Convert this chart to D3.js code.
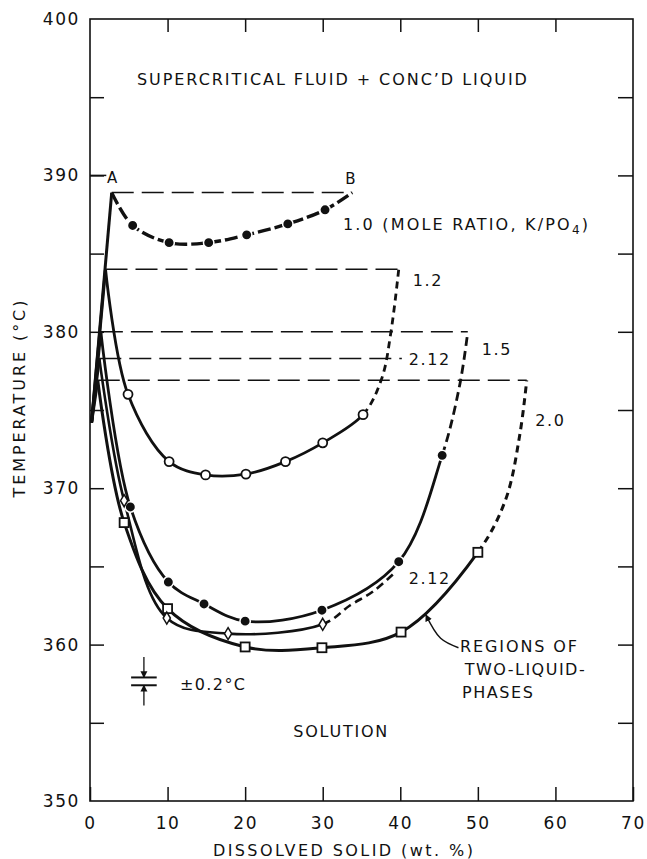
<!DOCTYPE html>
<html>
<head>
<meta charset="utf-8">
<script src="https://cdn.jsdelivr.net/npm/d3@7"></script>
<style>
  body { margin: 0; background: #fff; }
  text { font-family: "DejaVu Sans", sans-serif; fill: #111; }
</style>
</head>
<body>
<div id="chart"></div>
<script>
// Chart data (wt. % dissolved solid, temperature in deg C)
// ==============================
var xTicks = [0, 10, 20, 30, 40, 50, 60, 70];
var yTicks = [350, 360, 370, 380, 390, 400];
var yMinorTicks = [355, 360, 365, 370, 375, 380, 385, 390, 395];
var topTicks = [10, 20, 30, 40, 50, 60];

// pure water critical point, where every curve starts
var critical = [0.2, 374.2];

// mole ratio 1.0 (filled circles)
var peak10 = [2.8, 388.9];
var pts10 = [[5.5, 386.8], [10.2, 385.7], [15.3, 385.7], [20.2, 386.2], [25.5, 386.9], [30.3, 387.8]];
var end10 = [[33.8, 388.9]];

// mole ratio 1.2 (open circles)
var peak12 = [2.0, 384.0];
var pts12 = [[4.9, 376.0], [10.2, 371.7], [14.9, 370.85], [20.1, 370.9], [25.2, 371.7], [30.0, 372.9], [35.2, 374.7]];
var tail12 = [[37.6, 377.0], [38.8, 380.0], [39.8, 384.0]];

// mole ratio 1.5 (filled circles)
var peak15 = [1.4, 380.0];
var pts15 = [[5.2, 368.8], [10.1, 364.0], [14.7, 362.6], [20.0, 361.5], [29.9, 362.2], [39.8, 365.3], [45.4, 372.1]];
var tail15 = [[47.7, 376.7], [48.7, 380.0]];

// mole ratio 2.12 (open diamonds)
var peak212 = [1.2, 378.3];
var pts212 = [[4.4, 369.2], [9.9, 361.7], [17.8, 360.7], [30.0, 361.3]];
var tail212 = [[33.5, 362.5], [36.5, 363.4], [39.3, 364.6]];

// mole ratio 2.0 (open squares)
var peak20 = [1.0, 376.9];
var pts20 = [[4.4, 367.8], [10.0, 362.3], [20.0, 359.85], [29.9, 359.8], [40.1, 360.8], [50.0, 365.9]];
var tail20 = [[53.6, 369.3], [55.4, 373.4], [56.3, 376.9]];

// horizontal tie lines: level and right end
var tieLevels = [388.9, 384.0, 380.0, 378.3, 376.9];
var tieEnds = [33.8, 39.8, 48.7, 40.2, 56.3];

// Set chart parameters
// ==============================
var svgWidth = 647;
var svgHeight = 859;

var margin = { top: 19, right: 14, bottom: 58, left: 90 };
var width = svgWidth - margin.left - margin.right;
var height = svgHeight - margin.top - margin.bottom;

var svg = d3.select("#chart")
  .append("svg")
  .attr("width", svgWidth)
  .attr("height", svgHeight);

var defs = svg.append("defs");
defs.append("marker")
  .attr("id", "head")
  .attr("viewBox", "0 0 10 10")
  .attr("refX", 9).attr("refY", 5)
  .attr("markerWidth", 7).attr("markerHeight", 8)
  .attr("markerUnits", "userSpaceOnUse")
  .attr("orient", "auto")
  .append("path")
  .attr("d", "M0,0L10,5L0,10Z")
  .attr("fill", "#111");

var chartGroup = svg.append("g")
  .attr("transform", `translate(${margin.left}, ${margin.top})`);

// Scales
// ==============================
var x = d3.scaleLinear().domain([0, 70]).range([0, width]);
var y = d3.scaleLinear().domain([350, 400]).range([height, 0]);

// Axes
// ==============================
function styleAxis(g, size) {
  g.select(".domain").remove();
  g.selectAll("line").attr("stroke", "#111").attr("stroke-width", 1.5);
  g.selectAll("text")
    .attr("font-family", "DejaVu Sans")
    .attr("font-size", size)
    .attr("letter-spacing", 1.6)
    .attr("fill", "#111");
}

chartGroup.append("g")
  .attr("transform", `translate(0, ${height})`)
  .call(d3.axisBottom(x).tickValues(xTicks).tickSizeInner(-14).tickSizeOuter(0).tickPadding(16))
  .call(g => styleAxis(g, 17));

chartGroup.append("g")
  .call(d3.axisLeft(y).tickValues(yTicks).tickSize(0).tickPadding(10))
  .call(g => styleAxis(g, 17));

chartGroup.append("g")
  .call(d3.axisLeft(y).tickValues(yMinorTicks).tickSizeInner(-14).tickSizeOuter(0).tickFormat(""))
  .call(g => styleAxis(g, 17));

chartGroup.append("g")
  .attr("transform", `translate(${width}, 0)`)
  .call(d3.axisRight(y).tickValues(yMinorTicks).tickSizeInner(-15).tickSizeOuter(0).tickFormat(""))
  .call(g => styleAxis(g, 17));

chartGroup.append("g")
  .call(d3.axisTop(x).tickValues(topTicks).tickSizeInner(-13).tickSizeOuter(0).tickFormat(""))
  .call(g => styleAxis(g, 17));

chartGroup.append("rect")
  .attr("width", width).attr("height", height)
  .attr("fill", "none").attr("stroke", "#111").attr("stroke-width", 1.6);

// Axis titles
// ==============================
chartGroup.append("text")
  .attr("transform", `translate(${-margin.left + 25}, ${y(375.7)}) rotate(-90)`)
  .attr("text-anchor", "middle")
  .attr("font-size", 16)
  .attr("textLength", 197)
  .attr("lengthAdjust", "spacing")
  .text("TEMPERATURE  (°C)");

chartGroup.append("text")
  .attr("x", x(32.6)).attr("y", height + 55)
  .attr("text-anchor", "middle")
  .attr("font-size", 16)
  .attr("textLength", 260)
  .attr("lengthAdjust", "spacing")
  .text("DISSOLVED SOLID  (wt. %)");

// Curves
// ==============================
var smooth = d3.line()
  .x(d => x(d[0]))
  .y(d => y(d[1]))
  .curve(d3.curveCatmullRom.alpha(0.5));

var straight = d3.line()
  .x(d => x(d[0]))
  .y(d => y(d[1]));

var peaks = [peak10, peak12, peak15, peak212, peak20];

// tie lines
chartGroup.selectAll(".tie")
  .data(tieLevels)
  .enter()
  .append("line")
  .attr("class", "tie")
  .attr("x1", (d, i) => x(peaks[i][0]))
  .attr("x2", (d, i) => x(tieEnds[i]))
  .attr("y1", d => y(d))
  .attr("y2", d => y(d))
  .attr("stroke", "#111")
  .attr("stroke-width", 1.5)
  .attr("stroke-dasharray", "22,8");

// left branches from the critical point up to each peak
chartGroup.selectAll(".leftBranch")
  .data(peaks)
  .enter()
  .append("path")
  .attr("class", "leftBranch")
  .attr("d", d => straight([critical, d]))
  .attr("fill", "none")
  .attr("stroke", "#111")
  .attr("stroke-width", 3);

// right branches: one smooth path, solid up to the last measured point, dashed after it
var branches = [
  { pts: [peak10].concat(pts10, end10), solidTo: null, dash: [13, 4], w: 3.4 },
  { pts: [peak12].concat(pts12, tail12), solidTo: pts12[pts12.length - 1], dash: [7, 5], w: 2.8 },
  { pts: [peak15].concat(pts15, tail15), solidTo: pts15[pts15.length - 1], dash: [9, 5], w: 2.8 },
  { pts: [peak212].concat(pts212, tail212), solidTo: pts212[pts212.length - 1], dash: [8, 5], w: 2.6 },
  { pts: [peak20].concat(pts20, tail20), solidTo: pts20[pts20.length - 1], dash: [7, 5], w: 3.0 }
];

function lengthAt(node, p) {
  var total = node.getTotalLength(), best = 0, bd = Infinity;
  for (var s = 0; s <= total; s += 0.5) {
    var q = node.getPointAtLength(s);
    var dd = (q.x - x(p[0])) ** 2 + (q.y - y(p[1])) ** 2;
    if (dd < bd) { bd = dd; best = s; }
  }
  return best;
}

chartGroup.selectAll(".branch")
  .data(branches)
  .enter()
  .append("path")
  .attr("class", "branch")
  .attr("d", d => smooth(d.pts))
  .attr("fill", "none")
  .attr("stroke", "#111")
  .attr("stroke-width", d => d.w)
  .each(function(d) {
    if (!d.solidTo) {
      d3.select(this).attr("stroke-dasharray", d.dash.join(","));
      return;
    }
    var total = this.getTotalLength();
    var solid = lengthAt(this, d.solidTo);
    var arr = [solid, 0];
    var n = Math.ceil((total - solid) / (d.dash[0] + d.dash[1])) + 1;
    for (var k = 0; k < n; k++) arr.push(d.dash[0], d.dash[1]);
    arr.push(total, 0);
    d3.select(this).attr("stroke-dasharray", arr.join(","));
  });

// Markers
// ==============================
function filledCircles(data) {
  chartGroup.append("g").selectAll("circle")
    .data(data).enter().append("circle")
    .attr("cx", d => x(d[0])).attr("cy", d => y(d[1]))
    .attr("r", 5.2)
    .attr("fill", "#111")
    .attr("stroke", "#fff").attr("stroke-width", 1.5);
}
filledCircles(pts10);
filledCircles(pts15);

chartGroup.append("g").selectAll("circle")
  .data(pts12).enter().append("circle")
  .attr("cx", d => x(d[0])).attr("cy", d => y(d[1]))
  .attr("r", 4.5)
  .attr("fill", "#fff")
  .attr("stroke", "#111").attr("stroke-width", 1.8);

chartGroup.append("g").selectAll("rect")
  .data(pts20).enter().append("rect")
  .attr("x", d => x(d[0]) - 4.5).attr("y", d => y(d[1]) - 4.5)
  .attr("width", 9).attr("height", 9)
  .attr("fill", "#fff")
  .attr("stroke", "#111").attr("stroke-width", 1.8);

chartGroup.append("g").selectAll("path")
  .data(pts212).enter().append("path")
  .attr("transform", d => `translate(${x(d[0])}, ${y(d[1])})`)
  .attr("d", "M0,-6L3.6,0L0,6L-3.6,0Z")
  .attr("fill", "#fff")
  .attr("stroke", "#111").attr("stroke-width", 1.5);

// Labels
// ==============================
function label(w, t, str, size, len) {
  var el = chartGroup.append("text")
    .attr("x", x(w)).attr("y", y(t))
    .attr("font-size", size)
    .text(str);
  if (len) el.attr("textLength", len).attr("lengthAdjust", "spacing");
  else el.attr("letter-spacing", 1.6);
  return el;
}

label(6.05, 395.8, "SUPERCRITICAL FLUID + CONC’D LIQUID", 16, 390);
label(26.2, 354.1, "SOLUTION", 16, 94);
label(47.7, 359.5, "REGIONS OF", 16, 117);
label(48.3, 358.05, "TWO-LIQUID-", 16, 120);
label(47.95, 356.6, "PHASES", 16, 71);
label(11.6, 357.1, "±0.2°C", 16, 65);
label(2.2, 389.5, "A", 15);
label(32.9, 389.45, "B", 15);
label(41.6, 382.9, "1.2", 16);
label(50.5, 378.5, "1.5", 16);
label(41.1, 377.9, "2.12", 16);
label(57.4, 374.0, "2.0", 16);
label(41.1, 363.9, "2.12", 16);

var moleLabel = label(32.6, 386.5, "", 16).attr("letter-spacing", 2.2);
moleLabel.append("tspan").text("1.0 (MOLE RATIO, K/PO");
moleLabel.append("tspan").attr("dy", 4).attr("font-size", 12).text("4");
moleLabel.append("tspan").attr("dy", -4).text(")");

// tick on the axis joined to the A label
chartGroup.append("line")
  .attr("x1", x(0)).attr("x2", x(2.1))
  .attr("y1", y(390)).attr("y2", y(390))
  .attr("stroke", "#111").attr("stroke-width", 1.5);

// arrow from the two-liquid label to the 2.0 curve
var arrowPts = [[47.5, 359.8], [45.2, 360.4], [43.3, 361.9]];
chartGroup.append("path")
  .attr("d", smooth(arrowPts))
  .attr("fill", "none")
  .attr("stroke", "#111").attr("stroke-width", 1.4)
  .attr("marker-end", "url(#head)");

// error bar symbol (+/- 0.2 C)
var errX = [5.3, 8.6];
var errLevels = [357.9, 357.4];
chartGroup.selectAll(".errLine")
  .data(errLevels).enter().append("line")
  .attr("x1", x(errX[0])).attr("x2", x(errX[1]))
  .attr("y1", d => y(d)).attr("y2", d => y(d))
  .attr("stroke", "#111").attr("stroke-width", 2);

chartGroup.append("line")
  .attr("x1", x(6.95)).attr("x2", x(6.95))
  .attr("y1", y(359.2)).attr("y2", y(357.9))
  .attr("stroke", "#111").attr("stroke-width", 1.3)
  .attr("marker-end", "url(#head)");

chartGroup.append("line")
  .attr("x1", x(6.95)).attr("x2", x(6.95))
  .attr("y1", y(356.1)).attr("y2", y(357.4))
  .attr("stroke", "#111").attr("stroke-width", 1.3)
  .attr("marker-end", "url(#head)");
</script>
</body>
</html>
